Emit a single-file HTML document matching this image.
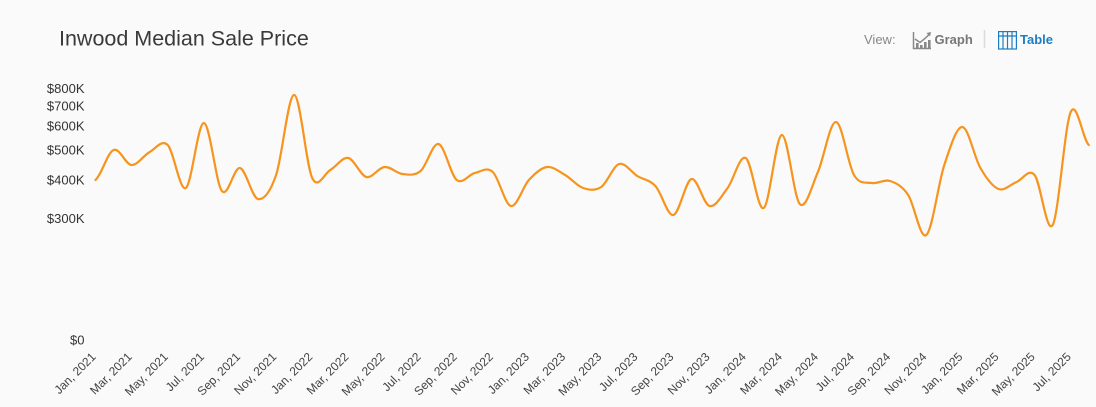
<!DOCTYPE html>
<html>
<head>
<meta charset="utf-8">
<style>
  html, body { margin: 0; padding: 0; background: #fafafa; }
  body { width: 1096px; height: 407px; overflow: hidden; }
  svg { display: block; }
  text { font-family: "Liberation Sans", Arial, sans-serif; }
</style>
</head>
<body>
<svg width="1096" height="407" viewBox="0 0 1096 407" xmlns="http://www.w3.org/2000/svg">
  <rect x="0" y="0" width="1096" height="407" fill="#fafafa"/>

  <!-- Title -->
  <text x="59" y="45.5" font-size="21.5" fill="#3a3a3a">Inwood Median Sale Price</text>

  <!-- View switch -->
  <text x="864" y="44" font-size="13" fill="#888">View:</text>
  <g stroke="#888" fill="none" stroke-width="1.5">
    <polyline points="913.5,32 913.5,48.5 931,48.5"/>
    <polyline points="915,39 920,42.5 925,38.5 929.5,34"/>
  </g>
  <polygon points="931,32 926.5,33 930,36.5" fill="#888"/>
  <g fill="#888">
    <rect x="916" y="43" width="2.6" height="5"/>
    <rect x="920" y="45" width="2.6" height="3"/>
    <rect x="924" y="42" width="2.6" height="6"/>
    <rect x="928" y="40" width="2.6" height="8"/>
  </g>
  <text x="934.5" y="44" font-size="13" font-weight="bold" fill="#777">Graph</text>
  <line x1="984.5" y1="30" x2="984.5" y2="48" stroke="#dcdcdc" stroke-width="1.5"/>
  <g stroke="#1b7ec2" fill="none" stroke-width="1.2">
    <rect x="998.6" y="31.6" width="17.8" height="17.4"/>
    <line x1="998.6" y1="36" x2="1016.4" y2="36"/>
    <line x1="1003" y1="31.6" x2="1003" y2="49"/>
    <line x1="1007.5" y1="31.6" x2="1007.5" y2="49"/>
    <line x1="1012" y1="31.6" x2="1012" y2="49"/>
  </g>
  <text x="1020" y="44" font-size="13" font-weight="bold" fill="#1b7ec2">Table</text>

  <!-- Y axis labels -->
  <g font-size="13" fill="#333" text-anchor="end">
    <text x="84.5" y="93">$800K</text>
    <text x="84.5" y="110.7">$700K</text>
    <text x="84.5" y="130.7">$600K</text>
    <text x="84.5" y="154.7">$500K</text>
    <text x="84.5" y="184.7">$400K</text>
    <text x="84.5" y="223">$300K</text>
    <text x="84.5" y="344.7">$0</text>
  </g>

  <!-- Series -->
  <path fill="none" stroke="#f7941d" stroke-width="2.2" stroke-linejoin="round" stroke-linecap="round"
    d="M95.5,180
C101.5,175 107.5,152.5 113.6,150
S125.6,164.7 131.6,165
S143.7,155.3 149.7,152
S161.7,139 167.7,145
S179.8,191.7 185.8,188
S197.8,122.5 203.9,123
S215.9,183.5 221.9,191
S234,166.7 240,168
S252,197.8 258,199
S270.1,192.3 276.1,175
S288.1,94.5 294.2,95
S306.2,165.5 312.2,178
S324.3,173.3 330.3,170
S342.3,156.8 348.3,158
S360.4,175.5 366.4,177
S378.4,167.5 384.5,167
S396.5,173.3 402.5,174
S414.6,176 420.6,171
S432.6,142.5 438.6,144
S450.7,175.2 456.7,180
S468.7,174.3 474.8,173
S486.8,166.5 492.8,172
S504.9,204.7 510.9,206
S522.9,186.5 528.9,180
S541,167.8 547,167
S559,171.5 565.1,175
S577.1,186 583.1,188
S595.2,191 601.2,187
S613.2,165.8 619.2,164
S631.3,172.3 637.3,176
S649.3,179.5 655.4,186
S667.4,216.2 673.4,215
S685.5,180.5 691.5,179
S703.5,204.5 709.5,206
S721.6,196 727.6,188
S739.6,154.7 745.7,158
S757.7,211.8 763.7,208
S775.8,135.7 781.8,135
S793.8,197.8 799.8,204
S811.9,185.7 817.9,172
S829.9,121.5 836,122
S848,164.8 854,175
S866.1,182 872.1,183
S884.1,179 890.1,181
S902.2,186 908.2,195
S920.2,240 926.3,235
S938.3,183 944.3,165
S956.4,126.5 962.4,127
S974.4,157.7 980.4,168
S992.5,186.7 998.5,189
S1010.5,184.3 1016.6,182
S1028.6,167.8 1034.6,175
S1046.7,235.5 1052.7,225
S1064.7,125.3 1070.7,112
S1082.8,139.5 1088.8,145"/>

  <!-- X axis labels -->
  <g font-size="12" fill="#444" text-anchor="end">
    <text transform="translate(96.5,357.5) rotate(-45)">Jan, 2021</text>
    <text transform="translate(132.6,357.5) rotate(-45)">Mar, 2021</text>
    <text transform="translate(168.7,357.5) rotate(-45)">May, 2021</text>
    <text transform="translate(204.9,357.5) rotate(-45)">Jul, 2021</text>
    <text transform="translate(241,357.5) rotate(-45)">Sep, 2021</text>
    <text transform="translate(277.1,357.5) rotate(-45)">Nov, 2021</text>
    <text transform="translate(313.2,357.5) rotate(-45)">Jan, 2022</text>
    <text transform="translate(349.3,357.5) rotate(-45)">Mar, 2022</text>
    <text transform="translate(385.5,357.5) rotate(-45)">May, 2022</text>
    <text transform="translate(421.6,357.5) rotate(-45)">Jul, 2022</text>
    <text transform="translate(457.7,357.5) rotate(-45)">Sep, 2022</text>
    <text transform="translate(493.8,357.5) rotate(-45)">Nov, 2022</text>
    <text transform="translate(529.9,357.5) rotate(-45)">Jan, 2023</text>
    <text transform="translate(566.1,357.5) rotate(-45)">Mar, 2023</text>
    <text transform="translate(602.2,357.5) rotate(-45)">May, 2023</text>
    <text transform="translate(638.3,357.5) rotate(-45)">Jul, 2023</text>
    <text transform="translate(674.4,357.5) rotate(-45)">Sep, 2023</text>
    <text transform="translate(710.5,357.5) rotate(-45)">Nov, 2023</text>
    <text transform="translate(746.7,357.5) rotate(-45)">Jan, 2024</text>
    <text transform="translate(782.8,357.5) rotate(-45)">Mar, 2024</text>
    <text transform="translate(818.9,357.5) rotate(-45)">May, 2024</text>
    <text transform="translate(855,357.5) rotate(-45)">Jul, 2024</text>
    <text transform="translate(891.1,357.5) rotate(-45)">Sep, 2024</text>
    <text transform="translate(927.3,357.5) rotate(-45)">Nov, 2024</text>
    <text transform="translate(963.4,357.5) rotate(-45)">Jan, 2025</text>
    <text transform="translate(999.5,357.5) rotate(-45)">Mar, 2025</text>
    <text transform="translate(1035.6,357.5) rotate(-45)">May, 2025</text>
    <text transform="translate(1071.7,357.5) rotate(-45)">Jul, 2025</text>
  </g>
</svg>
</body>
</html>
